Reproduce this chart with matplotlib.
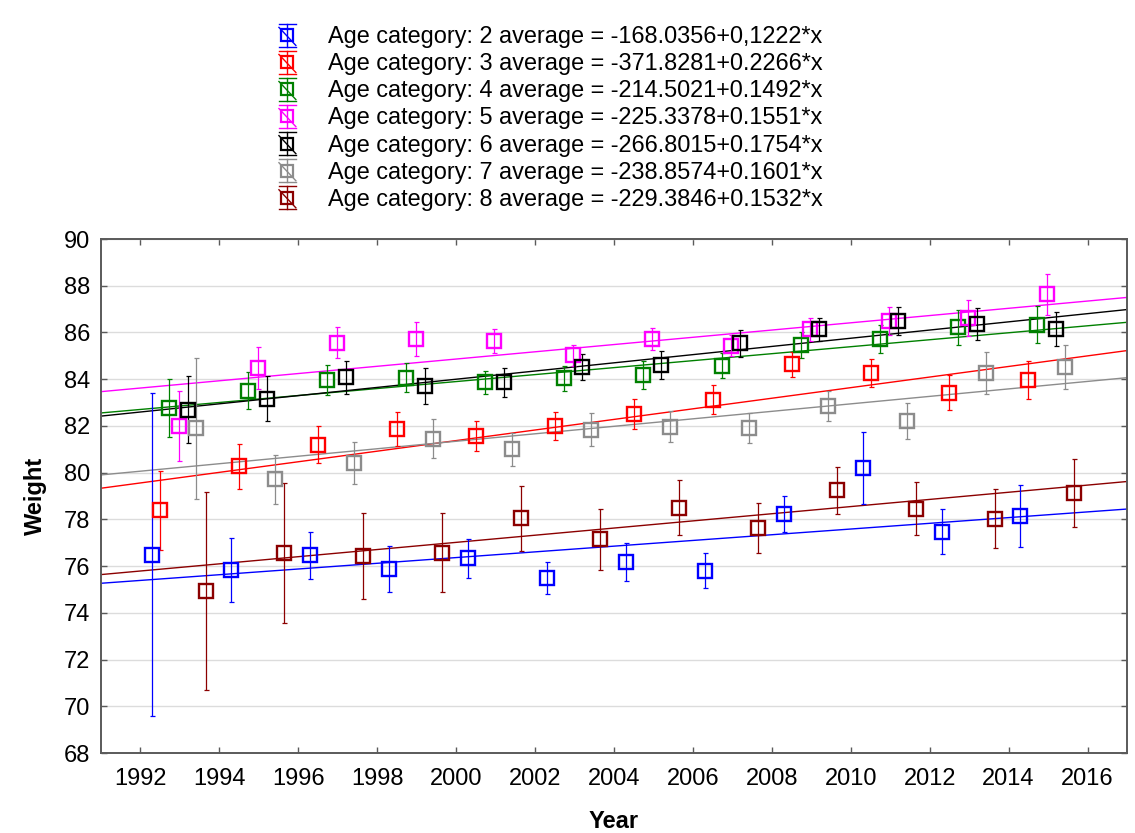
import matplotlib
matplotlib.use("Agg")
import matplotlib.pyplot as plt
import numpy as np
from matplotlib.legend_handler import HandlerBase
from matplotlib.lines import Line2D

plt.rcParams['font.family'] = ['Liberation Sans', 'DejaVu Sans']

# ---------------- data ----------------
years = [1992, 1994, 1996, 1998, 2000, 2002, 2004, 2006, 2008, 2010, 2012, 2014]
categories = ["2", "3", "4", "5", "6", "7", "8"]
dodge = [0.3, 0.5, 0.73, 0.97, 1.2, 1.42, 1.65]

cat2 = [76.49, 75.83, 76.46, 75.88, 76.34, 75.48, 76.18, 75.80, 78.24, 80.21, 77.48, 78.14]
err2 = [6.9, 1.38, 1.0, 1.0, 0.83, 0.68, 0.82, 0.75, 0.77, 1.55, 0.95, 1.33]
cat3 = [78.38, 80.28, 81.20, 81.86, 81.57, 82.01, 82.50, 83.13, 84.63, 84.27, 83.41, 83.97]
err3 = [1.7, 0.96, 0.8, 0.73, 0.64, 0.6, 0.65, 0.6, 0.53, 0.6, 0.75, 0.8]
cat4 = [82.76, 83.51, 83.96, 84.06, 83.87, 84.03, 84.16, 84.57, 85.47, 85.73, 86.22, 86.33]
err4 = [1.23, 0.78, 0.63, 0.63, 0.5, 0.53, 0.6, 0.53, 0.55, 0.6, 0.75, 0.8]
cat5 = [82.0, 84.48, 85.57, 85.73, 85.63, 85.03, 85.73, 85.44, 86.13, 86.49, 86.60, 87.63]
err5 = [1.5, 0.9, 0.68, 0.72, 0.53, 0.45, 0.48, 0.45, 0.5, 0.58, 0.77, 0.88]
cat6 = [82.70, 83.16, 84.08, 83.71, 83.86, 84.53, 84.61, 85.53, 86.14, 86.49, 86.37, 86.16]
err6 = [1.43, 0.97, 0.7, 0.78, 0.62, 0.56, 0.6, 0.57, 0.5, 0.6, 0.68, 0.72]
cat7 = [81.90, 79.71, 80.40, 81.46, 81.0, 81.84, 81.97, 81.90, 82.87, 82.21, 84.26, 84.53]
err7 = [3.02, 1.05, 0.9, 0.83, 0.7, 0.7, 0.67, 0.65, 0.64, 0.75, 0.89, 0.93]
cat8 = [74.93, 76.57, 76.43, 76.57, 78.04, 77.15, 78.50, 77.64, 79.24, 78.46, 78.03, 79.14]
err8 = [4.25, 3.0, 1.85, 1.7, 1.4, 1.3, 1.18, 1.08, 1.0, 1.12, 1.27, 1.45]

intercepts = [-168.0356, -371.8281, -214.5021, -225.3378, -266.8015, -238.8574, -229.3846]
slopes = [0.1222, 0.2266, 0.1492, 0.1551, 0.1754, 0.1601, 0.1532]
slope_text = ["0,1222", "0.2266", "0.1492", "0.1551", "0.1754", "0.1601", "0.1532"]

means = [cat2, cat3, cat4, cat5, cat6, cat7, cat8]
errors = [err2, err3, err4, err5, err6, err7, err8]
colors = ["#0000ff", "#ff0000", "#008000", "#ff00ff", "#000000", "#8c8c8c", "#8b0000"]

xlim = (1991, 2017)
ylim = (68, 90)
yticks = list(range(68, 91, 2))
xticks = list(range(1992, 2017, 2))

# ---------------- figure ----------------
fig = plt.figure(figsize=(11.35, 8.33), dpi=100)
ax = fig.add_axes([101 / 1135, 1 - 753 / 833, (1127 - 101) / 1135, (753 - 239) / 833])

ax.set_xlim(*xlim)
ax.set_ylim(*ylim)
ax.set_yticks(yticks)
ax.set_xticks(xticks)
ax.yaxis.grid(True, color="#dcdcdc", lw=1.0, zorder=0)
ax.set_axisbelow(True)

for sp in ax.spines.values():
    sp.set_color("#5a5a5a")
    sp.set_linewidth(1.4)

ax.tick_params(axis="both", direction="in", length=4, width=1, color="#5a5a5a",
               top=True, right=True, labelsize=17)
ax.tick_params(axis="y", pad=8)
ax.tick_params(axis="x", pad=11)

xl = np.array(xlim, dtype=float)
handles = []
labels = []
for i, cat in enumerate(categories):
    c = colors[i]
    xs = np.array(years, dtype=float) + dodge[i]
    ax.plot(xl, intercepts[i] + slopes[i] * xl, color=c, lw=1.0, zorder=2)
    ax.errorbar(xs, means[i], yerr=errors[i], fmt="none", ecolor=c, elinewidth=0.9,
                capsize=1.8, capthick=0.9, zorder=3)
    ax.plot(xs, means[i], ls="none", marker="s", ms=10, mfc="none", mec=c, mew=1.7, zorder=4)
    h = Line2D([], [], color=c)
    handles.append(h)
    labels.append(f"Age category: {cat} average = {intercepts[i]:.4f}+{slope_text[i]}*x")

ax.set_xlabel("Year", fontsize=17, fontweight="bold", labelpad=14)
ax.set_ylabel("Weight", fontsize=17, fontweight="bold", labelpad=12)


class ErrHandler(HandlerBase):
    def create_artists(self, legend, orig_handle, xdescent, ydescent, width, height,
                       fontsize, trans):
        c = orig_handle.get_color()
        cx = width / 2 - xdescent
        cy = height / 2 - ydescent
        hh = height * 0.5
        hw = width * 0.45
        arts = []
        arts.append(Line2D([cx, cx], [cy - hh, cy + hh], color=c, lw=1.0, transform=trans))
        arts.append(Line2D([cx - hw, cx + hw], [cy + hh, cy + hh], color=c, lw=1.0, transform=trans))
        arts.append(Line2D([cx - hw, cx + hw], [cy - hh, cy - hh], color=c, lw=1.0, transform=trans))
        arts.append(Line2D([cx - hw, cx + hw], [cy + hh * 0.7, cy - hh * 0.9], color=c, lw=1.0,
                           transform=trans))
        arts.append(Line2D([cx], [cy], ls="none", marker="s", ms=8, mfc="none", mec=c, mew=1.6,
                           transform=trans))
        return arts


leg = fig.legend(handles, labels, loc="upper left", bbox_to_anchor=(278 / 1135, 1 - 24 / 833),
                 frameon=False, fontsize=16.9, handlelength=0.8, handleheight=1.1,
                 handletextpad=1.35, labelspacing=0.12, borderpad=0, borderaxespad=0,
                 handler_map={Line2D: ErrHandler()})

fig.savefig("out.png", dpi=100)
